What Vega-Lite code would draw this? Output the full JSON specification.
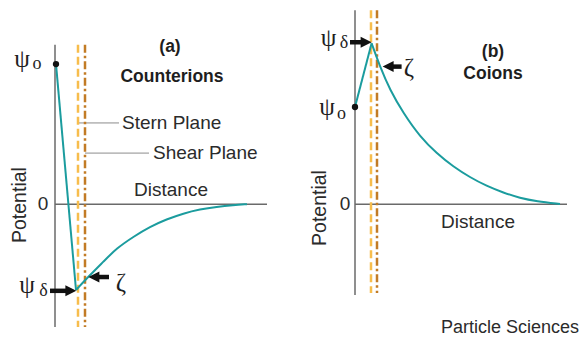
{
  "$schema": "https://vega.github.io/schema/vega-lite/v6.json",
  "padding": 0,
  "spacing": 0,
  "background": "white",
  "config": {"view": {"stroke": null}, "concat": {"spacing": 0}},
  "hconcat": [
    {
      "width": 290,
      "height": 338,
      "layer": [
        {
          "data": {"values": [{"x": 0, "x2": 0, "y": -8.72, "y2": 11.33}, {"x": 0, "x2": 10.6, "y": 0, "y2": 0}]},
          "mark": {"type": "rule", "color": "#6a6a6a", "strokeWidth": 1.5},
          "encoding": {
            "x": {"field": "x", "type": "quantitative", "scale": {"domain": [-2.75, 11.75], "nice": false, "zero": false}, "axis": null},
            "y": {"field": "y", "type": "quantitative", "scale": {"domain": [-9.5, 14.5], "nice": false, "zero": false}, "axis": null},
            "x2": {"field": "x2"}, "y2": {"field": "y2"}
          }
        },
        {
          "data": {"values": [{"x": 1.15, "x2": 3.2, "y": 5.77, "y2": 5.77}, {"x": 1.5, "x2": 4.7, "y": 3.63, "y2": 3.63}]},
          "mark": {"type": "rule", "color": "#8c8c8c", "strokeWidth": 1},
          "encoding": {
            "x": {"field": "x", "type": "quantitative", "scale": {"domain": [-2.75, 11.75], "nice": false, "zero": false}, "axis": null},
            "y": {"field": "y", "type": "quantitative", "scale": {"domain": [-9.5, 14.5], "nice": false, "zero": false}, "axis": null},
            "x2": {"field": "x2"}, "y2": {"field": "y2"}
          }
        },
        {
          "data": {"values": [{"x": 1.15, "x2": 1.15, "y": 11.33, "y2": -8.72}]},
          "mark": {"type": "rule", "color": "#f7bd4c", "strokeWidth": 2.5, "strokeDash": [8, 4]},
          "encoding": {
            "x": {"field": "x", "type": "quantitative", "scale": {"domain": [-2.75, 11.75], "nice": false, "zero": false}, "axis": null},
            "y": {"field": "y", "type": "quantitative", "scale": {"domain": [-9.5, 14.5], "nice": false, "zero": false}, "axis": null},
            "x2": {"field": "x2"}, "y2": {"field": "y2"}
          }
        },
        {
          "data": {"values": [{"x": 1.5, "x2": 1.5, "y": 11.33, "y2": -8.72}]},
          "mark": {"type": "rule", "color": "#c27b25", "strokeWidth": 2.5, "strokeDash": [8, 3, 2.5, 3]},
          "encoding": {
            "x": {"field": "x", "type": "quantitative", "scale": {"domain": [-2.75, 11.75], "nice": false, "zero": false}, "axis": null},
            "y": {"field": "y", "type": "quantitative", "scale": {"domain": [-9.5, 14.5], "nice": false, "zero": false}, "axis": null},
            "x2": {"field": "x2"}, "y2": {"field": "y2"}
          }
        },
        {
          "data": {"values": [
            {"seg": "drop", "x": 0.05, "y": 9.95},
            {"seg": "drop", "x": 1.05, "y": -6.09},
            {"seg": "decay", "x": 1.05, "y": -6.09},
            {"seg": "decay", "x": 1.75, "y": -5.03},
            {"seg": "decay", "x": 2.42, "y": -4.08},
            {"seg": "decay", "x": 3.08, "y": -3.13},
            {"seg": "decay", "x": 3.92, "y": -2.31},
            {"seg": "decay", "x": 4.75, "y": -1.6},
            {"seg": "decay", "x": 5.58, "y": -1.07},
            {"seg": "decay", "x": 6.42, "y": -0.65},
            {"seg": "decay", "x": 7.25, "y": -0.36},
            {"seg": "decay", "x": 8.08, "y": -0.18},
            {"seg": "decay", "x": 8.92, "y": -0.06},
            {"seg": "decay", "x": 9.6, "y": 0}
          ]},
          "mark": {"type": "line", "color": "#1b9c9e", "strokeWidth": 2, "interpolate": "basis"},
          "encoding": {
            "x": {"field": "x", "type": "quantitative", "scale": {"domain": [-2.75, 11.75], "nice": false, "zero": false}, "axis": null},
            "y": {"field": "y", "type": "quantitative", "scale": {"domain": [-9.5, 14.5], "nice": false, "zero": false}, "axis": null},
            "detail": {"field": "seg"}
          }
        },
        {
          "data": {"values": [{"x": 0.05, "y": 9.95}]},
          "mark": {"type": "point", "filled": true, "color": "#111111", "opacity": 1, "size": 40},
          "encoding": {
            "x": {"field": "x", "type": "quantitative", "scale": {"domain": [-2.75, 11.75], "nice": false, "zero": false}, "axis": null},
            "y": {"field": "y", "type": "quantitative", "scale": {"domain": [-9.5, 14.5], "nice": false, "zero": false}, "axis": null}
          }
        },
        {
          "data": {"values": [{"x": -0.25, "x2": 1.07, "y": -6.15, "y2": -6.15}]},
          "layer": [
            {
              "mark": {"type": "rule", "color": "#111111", "strokeWidth": 4.5, "strokeCap": "butt", "x2Offset": -9},
              "encoding": {
                "x": {"field": "x", "type": "quantitative", "scale": {"domain": [-2.75, 11.75], "nice": false, "zero": false}, "axis": null},
                "y": {"field": "y", "type": "quantitative", "scale": {"domain": [-9.5, 14.5], "nice": false, "zero": false}, "axis": null},
                "x2": {"field": "x2"}, "y2": {"field": "y2"}
              }
            },
            {
              "mark": {"type": "point", "filled": true, "color": "#111111", "opacity": 1, "size": 484, "shape": "M 0 0 L -1 -0.5 L -1 0.5 Z"},
              "encoding": {
                "x": {"field": "x2", "type": "quantitative", "scale": {"domain": [-2.75, 11.75], "nice": false, "zero": false}, "axis": null},
                "y": {"field": "y", "type": "quantitative", "scale": {"domain": [-9.5, 14.5], "nice": false, "zero": false}, "axis": null}
              }
            }
          ]
        },
        {
          "data": {"values": [{"x": 2.7, "x2": 1.67, "y": -5.17, "y2": -5.17}]},
          "layer": [
            {
              "mark": {"type": "rule", "color": "#111111", "strokeWidth": 4.5, "strokeCap": "butt", "x2Offset": 9},
              "encoding": {
                "x": {"field": "x", "type": "quantitative", "scale": {"domain": [-2.75, 11.75], "nice": false, "zero": false}, "axis": null},
                "y": {"field": "y", "type": "quantitative", "scale": {"domain": [-9.5, 14.5], "nice": false, "zero": false}, "axis": null},
                "x2": {"field": "x2"}, "y2": {"field": "y2"}
              }
            },
            {
              "mark": {"type": "point", "filled": true, "color": "#111111", "opacity": 1, "size": 484, "shape": "M 0 0 L 1 -0.5 L 1 0.5 Z"},
              "encoding": {
                "x": {"field": "x2", "type": "quantitative", "scale": {"domain": [-2.75, 11.75], "nice": false, "zero": false}, "axis": null},
                "y": {"field": "y", "type": "quantitative", "scale": {"domain": [-9.5, 14.5], "nice": false, "zero": false}, "axis": null}
              }
            }
          ]
        },
        {
          "data": {"values": [{"t": "Stern Plane", "x": 3.35, "y": 5.77}, {"t": "Shear Plane", "x": 4.9, "y": 3.63}]},
          "mark": {"type": "text", "align": "left", "baseline": "middle", "font": "Liberation Sans", "fontSize": 19, "color": "#2b2b2b"},
          "encoding": {
            "x": {"field": "x", "type": "quantitative", "scale": {"domain": [-2.75, 11.75], "nice": false, "zero": false}, "axis": null},
            "y": {"field": "y", "type": "quantitative", "scale": {"domain": [-9.5, 14.5], "nice": false, "zero": false}, "axis": null},
            "text": {"field": "t"}
          }
        },
        {
          "data": {"values": [{"t": "Distance", "x": 5.8, "y": 1.0}, {"t": "0", "x": -0.6, "y": 0}]},
          "mark": {"type": "text", "align": "center", "baseline": "middle", "font": "Liberation Sans", "fontSize": 19, "color": "#2b2b2b"},
          "encoding": {
            "x": {"field": "x", "type": "quantitative", "scale": {"domain": [-2.75, 11.75], "nice": false, "zero": false}, "axis": null},
            "y": {"field": "y", "type": "quantitative", "scale": {"domain": [-9.5, 14.5], "nice": false, "zero": false}, "axis": null},
            "text": {"field": "t"}
          }
        },
        {
          "data": {"values": [{"t": "(a)", "x": 5.75, "y": 11.15}, {"t": "Counterions", "x": 5.85, "y": 9.03}]},
          "mark": {"type": "text", "align": "center", "baseline": "middle", "font": "Liberation Sans", "fontWeight": "bold", "fontSize": 17.5, "color": "#1e1e1e"},
          "encoding": {
            "x": {"field": "x", "type": "quantitative", "scale": {"domain": [-2.75, 11.75], "nice": false, "zero": false}, "axis": null},
            "y": {"field": "y", "type": "quantitative", "scale": {"domain": [-9.5, 14.5], "nice": false, "zero": false}, "axis": null},
            "text": {"field": "t"}
          }
        },
        {
          "data": {"values": [{"t": "Potential", "x": -1.75, "y": -0.06}]},
          "mark": {"type": "text", "align": "center", "baseline": "middle", "angle": 270, "font": "Liberation Sans", "fontSize": 19.5, "color": "#2b2b2b"},
          "encoding": {
            "x": {"field": "x", "type": "quantitative", "scale": {"domain": [-2.75, 11.75], "nice": false, "zero": false}, "axis": null},
            "y": {"field": "y", "type": "quantitative", "scale": {"domain": [-9.5, 14.5], "nice": false, "zero": false}, "axis": null},
            "text": {"field": "t"}
          }
        },
        {
          "data": {"values": [{"t": "ψ", "x": -1.65, "y": 10.31}, {"t": "ψ", "x": -1.4, "y": -5.74}, {"t": "ζ", "x": 3.3, "y": -5.6}]},
          "mark": {"type": "text", "align": "center", "baseline": "middle", "font": "Liberation Serif", "fontSize": 25, "color": "#1e1e1e"},
          "encoding": {
            "x": {"field": "x", "type": "quantitative", "scale": {"domain": [-2.75, 11.75], "nice": false, "zero": false}, "axis": null},
            "y": {"field": "y", "type": "quantitative", "scale": {"domain": [-9.5, 14.5], "nice": false, "zero": false}, "axis": null},
            "text": {"field": "t"}
          }
        },
        {
          "data": {"values": [{"t": "o", "x": -0.9, "y": 9.95}, {"t": "δ", "x": -0.58, "y": -6.16}]},
          "mark": {"type": "text", "align": "center", "baseline": "middle", "font": "Liberation Serif", "fontSize": 18, "color": "#1e1e1e"},
          "encoding": {
            "x": {"field": "x", "type": "quantitative", "scale": {"domain": [-2.75, 11.75], "nice": false, "zero": false}, "axis": null},
            "y": {"field": "y", "type": "quantitative", "scale": {"domain": [-9.5, 14.5], "nice": false, "zero": false}, "axis": null},
            "text": {"field": "t"}
          }
        }
      ]
    },
    {
      "width": 291,
      "height": 338,
      "layer": [
        {
          "data": {"values": [{"x": 0, "x2": 0, "y": -6.45, "y2": 13.78}, {"x": 0, "x2": 10.6, "y": 0, "y2": 0}]},
          "mark": {"type": "rule", "color": "#6a6a6a", "strokeWidth": 1.5},
          "encoding": {
            "x": {"field": "x", "type": "quantitative", "scale": {"domain": [-3.25, 11.3], "nice": false, "zero": false}, "axis": null},
            "y": {"field": "y", "type": "quantitative", "scale": {"domain": [-9.5, 14.5], "nice": false, "zero": false}, "axis": null},
            "x2": {"field": "x2"}, "y2": {"field": "y2"}
          }
        },
        {
          "data": {"values": [{"x": 0.8, "x2": 0.8, "y": 13.78, "y2": -6.31}]},
          "mark": {"type": "rule", "color": "#f7bd4c", "strokeWidth": 2.5, "strokeDash": [8, 4]},
          "encoding": {
            "x": {"field": "x", "type": "quantitative", "scale": {"domain": [-3.25, 11.3], "nice": false, "zero": false}, "axis": null},
            "y": {"field": "y", "type": "quantitative", "scale": {"domain": [-9.5, 14.5], "nice": false, "zero": false}, "axis": null},
            "x2": {"field": "x2"}, "y2": {"field": "y2"}
          }
        },
        {
          "data": {"values": [{"x": 1.1, "x2": 1.1, "y": 13.78, "y2": -6.31}]},
          "mark": {"type": "rule", "color": "#c27b25", "strokeWidth": 2.5, "strokeDash": [8, 3, 2.5, 3]},
          "encoding": {
            "x": {"field": "x", "type": "quantitative", "scale": {"domain": [-3.25, 11.3], "nice": false, "zero": false}, "axis": null},
            "y": {"field": "y", "type": "quantitative", "scale": {"domain": [-9.5, 14.5], "nice": false, "zero": false}, "axis": null},
            "x2": {"field": "x2"}, "y2": {"field": "y2"}
          }
        },
        {
          "data": {"values": [
            {"seg": "rise", "x": 0, "y": 6.9},
            {"seg": "rise", "x": 0.83, "y": 11.43},
            {"seg": "decay", "x": 0.83, "y": 11.43},
            {"seg": "decay", "x": 1.25, "y": 9.77},
            {"seg": "decay", "x": 1.75, "y": 8.11},
            {"seg": "decay", "x": 2.42, "y": 6.46},
            {"seg": "decay", "x": 3.25, "y": 4.79},
            {"seg": "decay", "x": 4.08, "y": 3.62},
            {"seg": "decay", "x": 4.92, "y": 2.66},
            {"seg": "decay", "x": 5.75, "y": 1.91},
            {"seg": "decay", "x": 6.58, "y": 1.29},
            {"seg": "decay", "x": 7.42, "y": 0.82},
            {"seg": "decay", "x": 8.25, "y": 0.44},
            {"seg": "decay", "x": 9.08, "y": 0.21},
            {"seg": "decay", "x": 10.25, "y": 0.01}
          ]},
          "mark": {"type": "line", "color": "#1b9c9e", "strokeWidth": 2, "interpolate": "basis"},
          "encoding": {
            "x": {"field": "x", "type": "quantitative", "scale": {"domain": [-3.25, 11.3], "nice": false, "zero": false}, "axis": null},
            "y": {"field": "y", "type": "quantitative", "scale": {"domain": [-9.5, 14.5], "nice": false, "zero": false}, "axis": null},
            "detail": {"field": "seg"}
          }
        },
        {
          "data": {"values": [{"x": 0, "y": 6.9}]},
          "mark": {"type": "point", "filled": true, "color": "#111111", "opacity": 1, "size": 40},
          "encoding": {
            "x": {"field": "x", "type": "quantitative", "scale": {"domain": [-3.25, 11.3], "nice": false, "zero": false}, "axis": null},
            "y": {"field": "y", "type": "quantitative", "scale": {"domain": [-9.5, 14.5], "nice": false, "zero": false}, "axis": null}
          }
        },
        {
          "data": {"values": [{"x": -0.25, "x2": 0.83, "y": 11.5, "y2": 11.5}]},
          "layer": [
            {
              "mark": {"type": "rule", "color": "#111111", "strokeWidth": 4.5, "strokeCap": "butt", "x2Offset": -9},
              "encoding": {
                "x": {"field": "x", "type": "quantitative", "scale": {"domain": [-3.25, 11.3], "nice": false, "zero": false}, "axis": null},
                "y": {"field": "y", "type": "quantitative", "scale": {"domain": [-9.5, 14.5], "nice": false, "zero": false}, "axis": null},
                "x2": {"field": "x2"}, "y2": {"field": "y2"}
              }
            },
            {
              "mark": {"type": "point", "filled": true, "color": "#111111", "opacity": 1, "size": 484, "shape": "M 0 0 L -1 -0.5 L -1 0.5 Z"},
              "encoding": {
                "x": {"field": "x2", "type": "quantitative", "scale": {"domain": [-3.25, 11.3], "nice": false, "zero": false}, "axis": null},
                "y": {"field": "y", "type": "quantitative", "scale": {"domain": [-9.5, 14.5], "nice": false, "zero": false}, "axis": null}
              }
            }
          ]
        },
        {
          "data": {"values": [{"x": 2.33, "x2": 1.38, "y": 9.77, "y2": 9.77}]},
          "layer": [
            {
              "mark": {"type": "rule", "color": "#111111", "strokeWidth": 4.5, "strokeCap": "butt", "x2Offset": 9},
              "encoding": {
                "x": {"field": "x", "type": "quantitative", "scale": {"domain": [-3.25, 11.3], "nice": false, "zero": false}, "axis": null},
                "y": {"field": "y", "type": "quantitative", "scale": {"domain": [-9.5, 14.5], "nice": false, "zero": false}, "axis": null},
                "x2": {"field": "x2"}, "y2": {"field": "y2"}
              }
            },
            {
              "mark": {"type": "point", "filled": true, "color": "#111111", "opacity": 1, "size": 484, "shape": "M 0 0 L 1 -0.5 L 1 0.5 Z"},
              "encoding": {
                "x": {"field": "x2", "type": "quantitative", "scale": {"domain": [-3.25, 11.3], "nice": false, "zero": false}, "axis": null},
                "y": {"field": "y", "type": "quantitative", "scale": {"domain": [-9.5, 14.5], "nice": false, "zero": false}, "axis": null}
              }
            }
          ]
        },
        {
          "data": {"values": [{"t": "Distance", "x": 6.15, "y": -1.26}, {"t": "0", "x": -0.5, "y": 0}]},
          "mark": {"type": "text", "align": "center", "baseline": "middle", "font": "Liberation Sans", "fontSize": 19, "color": "#2b2b2b"},
          "encoding": {
            "x": {"field": "x", "type": "quantitative", "scale": {"domain": [-3.25, 11.3], "nice": false, "zero": false}, "axis": null},
            "y": {"field": "y", "type": "quantitative", "scale": {"domain": [-9.5, 14.5], "nice": false, "zero": false}, "axis": null},
            "text": {"field": "t"}
          }
        },
        {
          "data": {"values": [{"t": "Particle Sciences", "x": 7.75, "y": -8.8}]},
          "mark": {"type": "text", "align": "center", "baseline": "middle", "font": "Liberation Sans", "fontSize": 18, "color": "#2b2b2b"},
          "encoding": {
            "x": {"field": "x", "type": "quantitative", "scale": {"domain": [-3.25, 11.3], "nice": false, "zero": false}, "axis": null},
            "y": {"field": "y", "type": "quantitative", "scale": {"domain": [-9.5, 14.5], "nice": false, "zero": false}, "axis": null},
            "text": {"field": "t"}
          }
        },
        {
          "data": {"values": [{"t": "(b)", "x": 6.9, "y": 10.8}, {"t": "Coions", "x": 6.9, "y": 9.24}]},
          "mark": {"type": "text", "align": "center", "baseline": "middle", "font": "Liberation Sans", "fontWeight": "bold", "fontSize": 17.5, "color": "#1e1e1e"},
          "encoding": {
            "x": {"field": "x", "type": "quantitative", "scale": {"domain": [-3.25, 11.3], "nice": false, "zero": false}, "axis": null},
            "y": {"field": "y", "type": "quantitative", "scale": {"domain": [-9.5, 14.5], "nice": false, "zero": false}, "axis": null},
            "text": {"field": "t"}
          }
        },
        {
          "data": {"values": [{"t": "Potential", "x": -1.75, "y": -0.27}]},
          "mark": {"type": "text", "align": "center", "baseline": "middle", "angle": 270, "font": "Liberation Sans", "fontSize": 19.5, "color": "#2b2b2b"},
          "encoding": {
            "x": {"field": "x", "type": "quantitative", "scale": {"domain": [-3.25, 11.3], "nice": false, "zero": false}, "axis": null},
            "y": {"field": "y", "type": "quantitative", "scale": {"domain": [-9.5, 14.5], "nice": false, "zero": false}, "axis": null},
            "text": {"field": "t"}
          }
        },
        {
          "data": {"values": [{"t": "ψ", "x": -1.32, "y": 11.8}, {"t": "ψ", "x": -1.4, "y": 6.9}, {"t": "ζ", "x": 2.7, "y": 9.65}]},
          "mark": {"type": "text", "align": "center", "baseline": "middle", "font": "Liberation Serif", "fontSize": 25, "color": "#1e1e1e"},
          "encoding": {
            "x": {"field": "x", "type": "quantitative", "scale": {"domain": [-3.25, 11.3], "nice": false, "zero": false}, "axis": null},
            "y": {"field": "y", "type": "quantitative", "scale": {"domain": [-9.5, 14.5], "nice": false, "zero": false}, "axis": null},
            "text": {"field": "t"}
          }
        },
        {
          "data": {"values": [{"t": "δ", "x": -0.55, "y": 11.45}, {"t": "o", "x": -0.68, "y": 6.44}]},
          "mark": {"type": "text", "align": "center", "baseline": "middle", "font": "Liberation Serif", "fontSize": 18, "color": "#1e1e1e"},
          "encoding": {
            "x": {"field": "x", "type": "quantitative", "scale": {"domain": [-3.25, 11.3], "nice": false, "zero": false}, "axis": null},
            "y": {"field": "y", "type": "quantitative", "scale": {"domain": [-9.5, 14.5], "nice": false, "zero": false}, "axis": null},
            "text": {"field": "t"}
          }
        }
      ]
    }
  ]
}
